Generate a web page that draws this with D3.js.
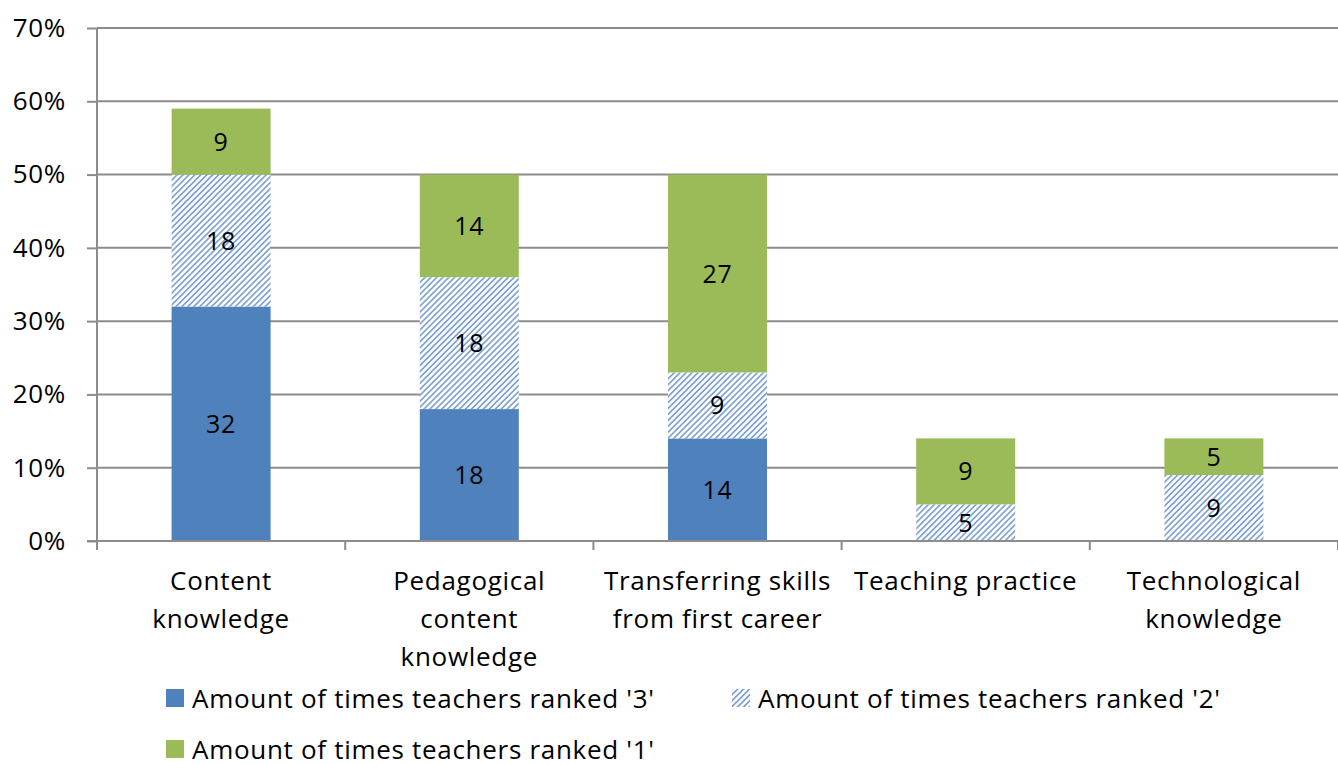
<!DOCTYPE html>
<html>
<head>
<meta charset="utf-8">
<script src="https://cdn.jsdelivr.net/npm/d3@7"></script>
<style>
  body { margin: 0; background: #fff; }
  text { font-family: "Open Sans", "Noto Sans", sans-serif; fill: #000; font-size: 26px; letter-spacing: 0.7px; }
</style>
</head>
<body>
<svg id="chart" width="1338" height="764"></svg>
<script>
var categories = [
  ["Content", "knowledge"],
  ["Pedagogical", "content", "knowledge"],
  ["Transferring skills", "from first career"],
  ["Teaching practice"],
  ["Technological", "knowledge"]
];
var seriesNames = ["Amount of times teachers ranked '3'", "Amount of times teachers ranked '2'", "Amount of times teachers ranked '1'"];
var ranked3 = [32, 18, 14, 0, 0];
var ranked2 = [18, 18, 9, 5, 9];
var ranked1 = [9, 14, 27, 9, 5];
var yTicks = [0, 10, 20, 30, 40, 50, 60, 70];

(function(){
  var svg = d3.select("#chart");
  var margin = {top: 28, right: 0, bottom: 223, left: 97};
  var width = 1338 - margin.left - margin.right;
  var height = 764 - margin.top - margin.bottom;

  var defs = svg.append("defs");
  var pat = defs.append("pattern")
    .attr("id", "hatch")
    .attr("patternUnits", "userSpaceOnUse")
    .attr("width", 4.2).attr("height", 4.2)
    .attr("patternTransform", "rotate(45)");
  pat.append("rect").attr("width", 4.2).attr("height", 4.2).attr("fill", "#fff");
  pat.append("rect").attr("x", 0).attr("width", 1.7).attr("height", 4.2).attr("fill", "#7fa3d6");

  var g = svg.append("g").attr("transform", "translate(" + margin.left + "," + margin.top + ")");

  var idx = d3.range(categories.length);
  var x = d3.scaleBand().domain(idx).range([0, width]).paddingInner(0).paddingOuter(0);
  var y = d3.scaleLinear().domain([0, 70]).range([height, 0]);

  // gridlines
  g.append("g").selectAll("line").data(yTicks.slice(1)).enter().append("line")
    .attr("x1", 0).attr("x2", width)
    .attr("y1", function(d){ return y(d); }).attr("y2", function(d){ return y(d); })
    .attr("stroke", "#8c8c8c").attr("stroke-width", 2);

  var data = idx.map(function(i){ return {i: i, r3: ranked3[i], r2: ranked2[i], r1: ranked1[i]}; });
  var stack = d3.stack().keys(["r3", "r2", "r1"])(data);
  var fills = ["#4f81bd", "url(#hatch)", "#9bbb59"];
  var barW = 99;

  var layers = g.append("g").selectAll("g").data(stack).enter().append("g")
    .attr("fill", function(d, k){ return fills[k]; });
  layers.selectAll("rect").data(function(d){ return d; }).enter().append("rect")
    .attr("x", function(d){ return x(d.data.i) + x.bandwidth()/2 - barW/2; })
    .attr("y", function(d){ return y(d[1]); })
    .attr("height", function(d){ return y(d[0]) - y(d[1]); })
    .attr("width", barW);

  layers.selectAll("text").data(function(d){ return d.filter(function(v){ return v[1] - v[0] > 0; }); })
    .enter().append("text")
    .attr("x", function(d){ return x(d.data.i) + x.bandwidth()/2; })
    .attr("y", function(d){ return (y(d[0]) + y(d[1]))/2; })
    .attr("dy", "0.36em")
    .attr("text-anchor", "middle")
    .style("font-size", "25px")
    .text(function(d){ return d[1] - d[0]; });

  // y axis
  var yAxis = g.append("g").call(d3.axisLeft(y).tickValues(yTicks).tickSize(10).tickFormat(function(d){ return d + "%"; }));
  yAxis.select(".domain").attr("stroke", "#8c8c8c").attr("stroke-width", 2).attr("d", "M0," + height + "V0");
  yAxis.selectAll(".tick line").attr("stroke", "#8c8c8c").attr("stroke-width", 2);
  yAxis.selectAll(".tick text").attr("font-size", null).attr("font-family", null)
    .attr("x", -31).attr("text-anchor", "end");

  // x axis
  var xg = g.append("g").attr("transform", "translate(0," + height + ")");
  xg.append("line").attr("x1", -10).attr("x2", width).attr("stroke", "#8c8c8c").attr("stroke-width", 2);
  xg.selectAll("line.tk").data(d3.range(categories.length + 1)).enter().append("line")
    .attr("class", "tk")
    .attr("x1", function(d){ return d * x.bandwidth(); }).attr("x2", function(d){ return d * x.bandwidth(); })
    .attr("y1", 0).attr("y2", 9)
    .attr("stroke", "#8c8c8c").attr("stroke-width", 2);
  var labels = xg.selectAll("text.cat").data(categories).enter().append("text")
    .attr("class", "cat")
    .attr("text-anchor", "middle")
    .attr("x", function(d, i){ return x(i) + x.bandwidth()/2; })
    .attr("y", 49);
  labels.selectAll("tspan").data(function(d){ return d; }).enter().append("tspan")
    .attr("x", function(){ return d3.select(this.parentNode).attr("x"); })
    .attr("dy", function(d, j){ return j === 0 ? 0 : 38; })
    .text(function(d){ return d; });

  // legend
  var legendItems = [
    {x: 166, y: 689, fill: fills[0], name: seriesNames[0]},
    {x: 732, y: 689, fill: fills[1], name: seriesNames[1]},
    {x: 166, y: 740, fill: fills[2], name: seriesNames[2]}
  ];
  var lg = svg.append("g").selectAll("g").data(legendItems).enter().append("g");
  lg.append("rect")
    .attr("x", function(d){ return d.x; }).attr("y", function(d){ return d.y; })
    .attr("width", 18).attr("height", 18)
    .attr("fill", function(d){ return d.fill; });
  lg.append("text")
    .attr("x", function(d){ return d.x + 26; }).attr("y", function(d){ return d.y + 19; })
    .text(function(d){ return d.name; });
})();
</script>
</body>
</html>
